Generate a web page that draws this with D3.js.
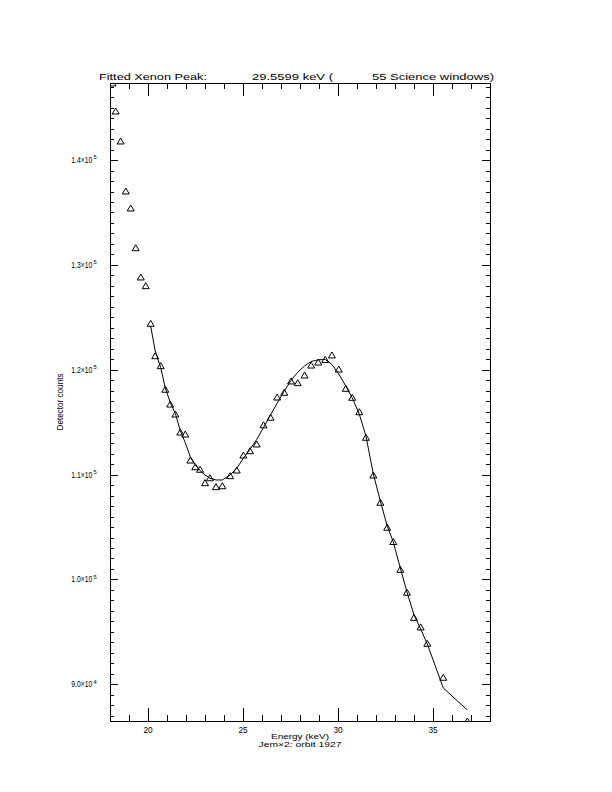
<!DOCTYPE html>
<html><head><meta charset="utf-8">
<script src="https://cdn.jsdelivr.net/npm/d3@7"></script>
<style>
html,body{margin:0;padding:0;background:#fff;}
svg{display:block;}
text{font-family:"Liberation Sans",Arial,sans-serif;fill:#000;}
</style></head>
<body><svg id="c" width="612" height="792"></svg>
<script>
// ---- data ----
const energy = [18.13,18.30,18.56,18.83,19.09,19.35,19.62,19.88,20.14,20.38,
  20.67,20.91,21.17,21.44,21.70,21.96,22.23,22.49,22.74,23.00,
  23.26,23.58,23.91,24.32,24.67,25.02,25.37,25.72,26.08,26.45,
  26.80,27.17,27.53,27.88,28.24,28.59,28.96,29.33,29.68,30.04,
  30.41,30.75,31.12,31.47,31.86,32.23,32.59,32.91,33.28,33.63,
  34.00,34.35,34.70,35.54,36.81];
const counts = [147350,144680,141820,137050,135430,131640,128850,128020,124430,121340,
  120390,118140,116730,115780,114060,113870,111390,110750,110510,109230,
  109700,108850,108940,109900,110440,111870,112280,112920,114750,115470,
  117400,117850,118930,118770,119500,120450,120740,120980,121410,120070,
  118230,117370,116000,113560,109960,107360,104980,103620,100970,98780,
  96390,95470,93910,90670,86500];
const fitEnergy = [20.14,20.38,20.67,20.91,21.17,21.44,21.70,21.96,22.23,22.49,
  22.74,23.00,23.26,23.58,23.91,24.32,24.67,25.02,25.37,25.72,
  26.08,26.45,26.80,27.17,27.53,27.88,28.24,28.59,28.96,29.33,
  29.68,30.04,30.41,30.75,31.12,31.47,31.86,32.23,32.59,32.91,
  33.28,33.63,34.00,34.35,34.70,35.54,36.81];
const fitCounts = [124170,121790,120200,118260,116890,115830,114190,113050,111680,110950,
  110380,109960,109650,109490,109490,109960,110600,111560,112410,113350,
  114490,115690,116830,117970,118980,119760,120360,120790,120950,120980,
  120500,119600,118450,117310,115780,113680,110060,107480,105100,103570,
  101090,98800,96610,95280,93840,89650,87550];
const xMajor = [20,25,30,35];
const xMinor = [19,21,22,23,24,26,27,28,29,31,32,33,34,36,37];
const yMajor = [90000,100000,110000,120000,130000,140000];
const yMajorMant = ["9.0","1.0","1.1","1.2","1.3","1.4"];
const yMajorExp = ["4","5","5","5","5","5"];
const yMinor = d3.range(87000,148000,1000).filter(v => v % 10000 !== 0);
const titleParts = ["Fitted Xenon Peak:","29.5599 keV (","55 Science windows)"];
const xTitle = "Energy (keV)";
const subTitle = "Jem×2: orbit 1927";
const yTitle = "Detector counts";

// ---- layout ----
const L=110, R=490, T=83, B=721;
const x = d3.scaleLinear().domain([18,38]).range([L,R]);
const y = d3.scaleLinear().domain([86500,147350]).range([B,T]);
const svg = d3.select("#c");

function styleAxis(g){ g.select(".domain").remove(); g.selectAll("line").attr("stroke","#000").attr("shape-rendering","crispEdges"); }
svg.append("g").attr("transform",`translate(0,${B})`)
  .call(d3.axisBottom(x).tickValues(xMajor).tickSize(-13).tickFormat("")).call(styleAxis);
svg.append("g").attr("transform",`translate(0,${B})`)
  .call(d3.axisBottom(x).tickValues(xMinor).tickSize(-6.4).tickFormat("")).call(styleAxis);
svg.append("g").attr("transform",`translate(0,${T})`)
  .call(d3.axisTop(x).tickValues(xMajor).tickSize(-13).tickFormat("")).call(styleAxis);
svg.append("g").attr("transform",`translate(0,${T})`)
  .call(d3.axisTop(x).tickValues(xMinor).tickSize(-6.4).tickFormat("")).call(styleAxis);
svg.append("g").attr("transform",`translate(${L},0)`)
  .call(d3.axisLeft(y).tickValues(yMajor).tickSize(-7.6).tickFormat("")).call(styleAxis);
svg.append("g").attr("transform",`translate(${L},0)`)
  .call(d3.axisLeft(y).tickValues(yMinor).tickSize(-3.8).tickFormat("")).call(styleAxis);
svg.append("g").attr("transform",`translate(${R},0)`)
  .call(d3.axisRight(y).tickValues(yMajor).tickSize(-7.6).tickFormat("")).call(styleAxis);
svg.append("g").attr("transform",`translate(${R},0)`)
  .call(d3.axisRight(y).tickValues(yMinor).tickSize(-3.8).tickFormat("")).call(styleAxis);

// frame
svg.append("rect").attr("x",L+0.5).attr("y",T+0.5).attr("width",R-L).attr("height",B-T)
  .attr("fill","none").attr("stroke","#000").attr("stroke-width",1);

// x tick labels
svg.append("g").selectAll("text").data(xMajor).join("text")
  .attr("x",d=>x(d)).attr("y",B+11.5).attr("text-anchor","middle")
  .attr("font-size",8.3).text(d=>d);

// y tick labels (mantissa condensed by transform, exponent separate)
svg.append("g").selectAll("text").data(yMajor).join("text")
  .attr("transform",d=>`translate(92.2,${y(d)+3}) scale(0.82,1)`)
  .attr("text-anchor","end").attr("font-size",8.3)
  .text((d,i)=>yMajorMant[i]+"×10");
svg.append("g").selectAll("text").data(yMajor).join("text")
  .attr("x",93.4).attr("y",d=>y(d)-0.8).attr("text-anchor","start").attr("font-size",5.8)
  .text((d,i)=>yMajorExp[i]);

// titles
const tp=[[99,108],[252,81],[372,122]];
titleParts.forEach((s,i)=>{
  svg.append("text").attr("x",tp[i][0]).attr("y",80).attr("font-size",9.6)
    .attr("textLength",tp[i][1]).attr("lengthAdjust","spacingAndGlyphs").text(s);
});
svg.append("text").attr("x",(L+R)/2).attr("y",739.3).attr("text-anchor","middle")
  .attr("font-size",7.2).attr("textLength",58).attr("lengthAdjust","spacingAndGlyphs").text(xTitle);
svg.append("text").attr("x",(L+R)/2).attr("y",747.3).attr("text-anchor","middle")
  .attr("font-size",7.2).attr("textLength",83).attr("lengthAdjust","spacingAndGlyphs").text(subTitle);
svg.append("text").attr("transform",`translate(63.3,${(T+B)/2}) rotate(-90)`)
  .attr("text-anchor","middle").attr("font-size",8.3)
  .attr("textLength",57).attr("lengthAdjust","spacingAndGlyphs").text(yTitle);

// clip
svg.append("clipPath").attr("id","plotclip").append("rect")
  .attr("x",L).attr("y",T).attr("width",R-L+1).attr("height",B-T+1);
const plot = svg.append("g").attr("clip-path","url(#plotclip)");

// fit curve
const fit = fitEnergy.map((e,i)=>[e,fitCounts[i]]);
plot.append("path").datum(fit)
  .attr("d",d3.line().x(d=>x(d[0])).y(d=>y(d[1])))
  .attr("fill","none").attr("stroke","#000").attr("stroke-width",1);

// data triangles
const pts = energy.map((e,i)=>[e,counts[i]]);
plot.selectAll("path.tri").data(pts).join("path").attr("class","tri")
  .attr("transform",d=>`translate(${x(d[0])},${y(d[1])})`)
  .attr("d","M-3.5,3L0,-3L3.5,3Z")
  .attr("fill","none").attr("stroke","#000").attr("stroke-width",1);
</script></body></html>
